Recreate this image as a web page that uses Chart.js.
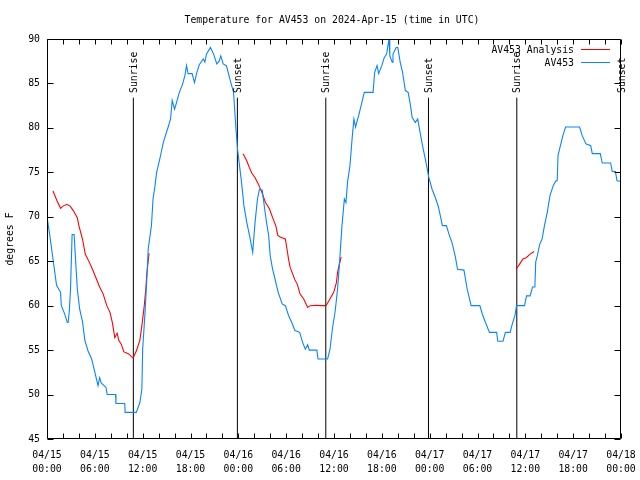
<!DOCTYPE html>
<html>
<head>
<meta charset="utf-8">
<script src="https://cdn.jsdelivr.net/npm/chart.js@4.4.1/dist/chart.umd.min.js"></script>
<style>
  html, body { margin:0; padding:0; background:#fff; }
  #wrap { width:640px; height:480px; }
</style>
</head>
<body>
<div id="wrap"><canvas id="chart" width="640" height="480"></canvas></div>
<script>
// hours since 2024-04-15 00:00 UTC
const blueHours = [0,0.35,0.75,1.2,1.7,1.8,2.2,2.55,2.65,2.8,2.95,3.15,3.4,3.6,3.8,4.1,4.45,4.75,5.15,5.6,5.9,6.4,6.6,6.8,7.4,7.55,8.6,8.65,9.75,9.8,11.2,11.65,11.9,12.0,12.3,12.5,12.7,13.1,13.3,13.55,13.75,14.15,14.6,15.2,15.5,15.7,16.0,16.2,16.6,17.0,17.3,17.5,17.7,18.2,18.5,18.8,19.1,19.6,19.8,20.0,20.5,20.9,21.3,21.6,21.8,22.1,22.5,23.0,23.4,23.7,23.9,24.1,24.4,24.7,25.05,25.4,25.8,26.1,26.4,26.65,27.0,27.3,27.5,27.8,28.0,28.3,28.6,29.0,29.5,29.9,30.3,30.7,31.1,31.7,32.05,32.4,32.7,32.9,33.85,34.0,35.2,35.5,35.8,36.15,36.45,36.7,37.0,37.3,37.5,37.7,38.0,38.3,38.5,38.7,39.1,39.4,39.8,40.9,41.1,41.4,41.6,42.0,42.3,42.6,42.9,43.0,43.3,43.4,43.8,44.0,44.3,44.6,44.95,45.3,45.6,45.8,46.2,46.5,46.8,47.1,47.5,47.9,48.3,48.7,49.1,49.6,50.1,50.4,50.8,51.2,51.5,52.3,52.7,53.2,54.3,54.6,55.0,55.5,56.4,56.55,57.2,57.5,58.1,58.35,58.7,58.9,59.9,60.15,60.6,60.9,61.2,61.3,61.5,61.8,62.1,62.4,62.75,63.1,63.5,63.8,64.0,64.1,64.4,64.7,65.05,66.8,67.15,67.6,68.2,68.4,69.4,69.65,70.7,70.9,71.3,71.5,71.9];
const blueTemps = [70,67.9,65.25,62.3,61.5,60,59.1,58.1,58.1,59.4,61.9,68,68,64.9,61.9,59.6,58.2,56.1,54.9,54,52.9,51,51.9,51.3,50.8,50,50,49,49,48,48,49.1,50.6,55.1,59.3,62.6,66.4,69,72,73.5,75,76.5,78.4,80.1,81,83.1,82.1,82.7,84,84.9,85.9,87,86.1,86.1,85.1,86.25,87.1,87.75,87.4,88.3,89.05,88.3,87.2,87.5,88.1,87.2,87,85.3,84,79.9,77.6,76.1,73.9,71.25,69.4,67.9,66,69.4,72,73.1,73,70.9,69.6,67.9,65.6,64.1,63,61.5,60.2,60,58.9,58.1,57.2,57,55.9,55.1,55.6,55,55,54,54,55.1,57.4,59.4,61.9,64.9,69,72,71.6,73.9,75.75,79.1,81,80.1,81.4,82.5,84,84,86.25,87,86.1,87,87.9,88.3,90,88.1,87.4,88.3,89.05,89.05,87.4,86.25,84.2,84,82.5,81.2,80.6,81,79.5,78,76.3,74.4,73.1,72.2,71.1,69,69,68.1,67.1,65.6,64.1,64,61.9,60,60,59.06,58.1,57,57,56,56,57,57,57.9,58.9,60,60,61.1,61.1,62.1,62.1,64.9,65.6,66.9,67.5,69,70.5,72.4,73.5,74,74.1,76.9,78,79.1,80.1,80.1,79.1,78.2,78,77.1,77.1,76.05,76.05,75.1,75.1,74.05,74];

const redHours = [0.75,1.25,1.7,2.0,2.5,2.9,3.3,3.8,4.0,4.45,4.8,5.3,5.7,6.2,6.6,7.05,7.5,7.9,8.2,8.5,8.8,9.0,9.3,9.65,10.2,10.8,11.2,11.65,11.95,12.2,12.4,12.5,12.8,18,24.6,25.05,25.4,25.7,26.1,26.5,26.95,27.4,27.9,28.3,28.7,28.95,29.3,29.9,30.1,30.3,30.5,30.8,31.1,31.4,31.75,32.2,32.7,33.0,33.8,34.3,35.0,35.4,35.7,36.0,36.3,36.45,36.6,36.9,48,58.85,59.3,59.7,60.1,60.6,61.1];
const redTemps = [72.9,71.8,70.95,71.2,71.4,71.2,70.7,69.9,69,67.5,65.8,64.9,64.1,63,62.1,61.3,60,59.25,58.1,56.4,56.9,56.1,55.7,54.8,54.6,54.1,54.9,56.1,58.1,60,61.9,63.4,65.9,null,77.1,76.3,75.5,74.9,74.4,73.7,72.75,71.6,70.9,69.9,69,67.9,67.7,67.5,66.4,65.2,64.3,63.6,62.9,62.4,61.3,60.75,59.8,60,60.05,60,60,60.6,61.1,61.6,62.6,63.75,64.4,65.5,null,64.1,64.7,65.25,65.4,65.8,66.1];

const eventHours = [10.83, 23.88, 34.97, 47.85, 58.93, 72.0];
const eventNames = ['Sunrise', 'Sunset', 'Sunrise', 'Sunset', 'Sunrise', 'Sunset'];
const eventTop = 83.4;

const yTicks = [45, 50, 55, 60, 65, 70, 75, 80, 85, 90];
const xLabelDates = ['04/15','04/15','04/15','04/15','04/16','04/16','04/16','04/16','04/17','04/17','04/17','04/17','04/18'];
const xLabelTimes = ['00:00','06:00','12:00','18:00','00:00','06:00','12:00','18:00','00:00','06:00','12:00','18:00','00:00'];

const FONT = '"DejaVu Sans Mono", "Liberation Mono", monospace';
const RED = '#ff0000';
const BLUE = '#0a84ff';

const eventData = [];
eventHours.forEach(h => {
  eventData.push({x:h, y:45}, {x:h, y:eventTop}, {x:h, y:null});
});

const decorPlugin = {
  id: 'decor',
  afterDatasetsDraw(chart){
    const ctx = chart.ctx;
    const a = chart.chartArea;
    const xs = chart.scales.x, ys = chart.scales.y;
    const L = Math.round(a.left)+0.5, R = Math.round(a.right)-0.5;
    const T = Math.round(a.top)+0.5, B = Math.round(a.bottom)-0.5;
    ctx.save();
    ctx.strokeStyle = '#000';
    ctx.lineWidth = 1;
    ctx.beginPath();
    ctx.rect(L, T, R-L, B-T);
    // inward ticks, x every 2 hours
    for(let h=0; h<=72; h+=2){
      const px = Math.round(xs.getPixelForValue(h))+0.5;
      ctx.moveTo(px, B); ctx.lineTo(px, B-5);
      ctx.moveTo(px, T); ctx.lineTo(px, T+5);
    }
    yTicks.forEach(v => {
      const py = Math.round(ys.getPixelForValue(v))+0.5;
      ctx.moveTo(L, py); ctx.lineTo(L+6, py);
      ctx.moveTo(R, py); ctx.lineTo(R-6, py);
    });
    ctx.stroke();

    ctx.fillStyle = '#000';
    ctx.font = '9.8px ' + FONT;
    // sunrise / sunset labels
    eventHours.forEach((h,i) => {
      const px = xs.getPixelForValue(h);
      ctx.save();
      ctx.translate(px+1, 93);
      ctx.rotate(-Math.PI/2);
      ctx.textAlign = 'left';
      ctx.textBaseline = 'middle';
      ctx.fillText(eventNames[i], 0, 0);
      ctx.restore();
    });

    // title
    ctx.textAlign = 'center';
    ctx.textBaseline = 'middle';
    ctx.fillText('Temperature for AV453 on 2024-Apr-15 (time in UTC)', 332, 20);

    // legend
    ctx.textAlign = 'right';
    ctx.fillText('AV453 Analysis', 574, 50);
    ctx.fillText('AV453', 574, 63);
    ctx.strokeStyle = RED;
    ctx.beginPath(); ctx.moveTo(581, 49.5); ctx.lineTo(610, 49.5); ctx.stroke();
    ctx.strokeStyle = BLUE;
    ctx.beginPath(); ctx.moveTo(581, 62.5); ctx.lineTo(610, 62.5); ctx.stroke();
    ctx.restore();
  }
};

new Chart(document.getElementById('chart'), {
  type: 'line',
  data: {
    datasets: [
      { label: 'AV453 Analysis', data: redHours.map((h,i)=>({x:h, y:redTemps[i]})),
        borderColor: RED, borderWidth: 1.1, pointRadius: 0, spanGaps: false, tension: 0, order: 1 },
      { label: 'AV453', data: blueHours.map((h,i)=>({x:h, y:blueTemps[i]})),
        borderColor: BLUE, borderWidth: 1.1, pointRadius: 0, tension: 0, order: 0 },
      { label: 'events', data: eventData,
        borderColor: '#000', borderWidth: 1, pointRadius: 0, spanGaps: false, order: 2 }
    ]
  },
  options: {
    responsive: false,
    devicePixelRatio: 1,
    animation: false,
    layout: { autoPadding: false, padding: { left: 0, right: 19, top: 39, bottom: 0 } },
    plugins: { legend: { display: false }, title: { display: false }, tooltip: { enabled: false } },
    scales: {
      x: {
        type: 'linear', min: 0, max: 72,
        grid: { display: false, drawTicks: false },
        border: { display: false },
        afterFit: s => { s.height = 41; s.paddingLeft = 0; s.paddingRight = 0; },
        ticks: {
          stepSize: 2, autoSkip: false, maxRotation: 0, minRotation: 0, padding: 9,
          color: '#000', font: { family: FONT, size: 9.8, lineHeight: 1.45 },
          callback: v => (v % 6 === 0) ? [xLabelDates[v/6], xLabelTimes[v/6]] : ''
        }
      },
      y: {
        min: 45, max: 90,
        grid: { display: false, drawTicks: false },
        border: { display: false },
        afterFit: s => { s.width = 47; s.paddingTop = 0; s.paddingBottom = 0; },
        title: { display: true, text: 'degrees F', color: '#000', font: { family: FONT, size: 9.8 }, padding: { top: 5, bottom: 0 } },
        ticks: {
          stepSize: 5, padding: 7, color: '#000',
          font: { family: FONT, size: 9.8 }
        }
      }
    }
  },
  plugins: [decorPlugin]
});
</script>
</body>
</html>
